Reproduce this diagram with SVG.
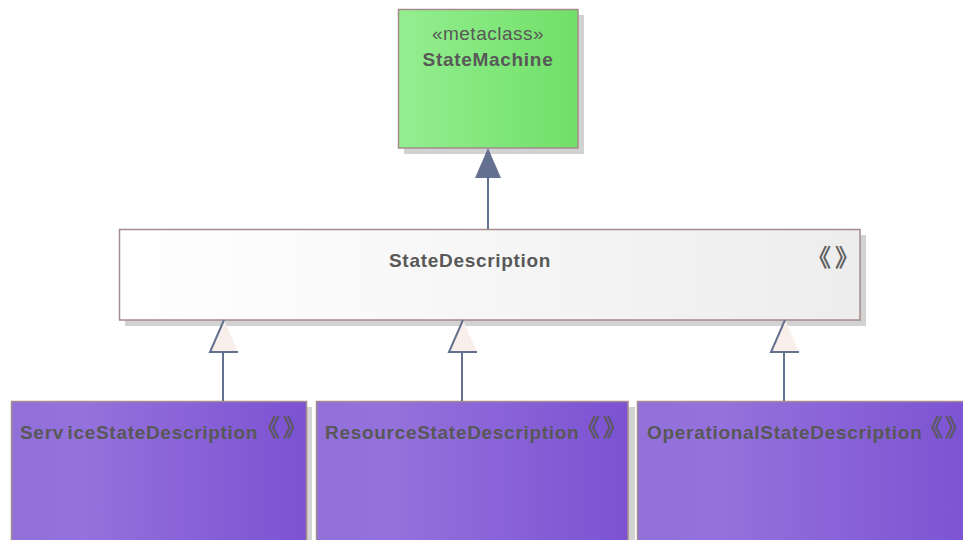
<svg xmlns="http://www.w3.org/2000/svg" width="963" height="540" viewBox="0 0 963 540">
  <style>
    .shadow { fill: #d2d2d2; }
    .box { stroke: #a48c8c; stroke-width: 1.5; }
    .label { font-family: "Liberation Sans", Arial, sans-serif; font-size: 19px; fill: #585858; }
    .bold { font-weight: bold; letter-spacing: 0.7px; }
    .stereo { font-family: "Noto Sans CJK SC", "Noto Sans CJK JP", sans-serif; font-size: 24px; fill: #585858; stroke: #585858; stroke-width: 0.5; }
    .conn { stroke: #647090; stroke-width: 2; fill: none; }
    .hollow { fill: #f8efea; }
  </style>
  <defs>
    <linearGradient id="gGreen" x1="0" y1="0" x2="1" y2="0">
      <stop offset="0" stop-color="#94ee90"/>
      <stop offset="1" stop-color="#70e068"/>
    </linearGradient>
    <linearGradient id="gWhite" x1="0" y1="0" x2="1" y2="0">
      <stop offset="0" stop-color="#ffffff"/>
      <stop offset="1" stop-color="#ededed"/>
    </linearGradient>
    <linearGradient id="gPurple" x1="0" y1="0" x2="1" y2="0">
      <stop offset="0" stop-color="#9270da"/>
      <stop offset="0.25" stop-color="#9471dc"/>
      <stop offset="1" stop-color="#7c52d2"/>
    </linearGradient>
  </defs>

  <!-- metaclass StateMachine -->
  <g id="StateMachine">
    <rect class="shadow" x="404" y="15" width="180" height="139"/>
    <rect class="box" x="398.5" y="9.5" width="179.5" height="138.5" fill="url(#gGreen)"/>
    <text class="label" x="488" y="40" text-anchor="middle" letter-spacing="0.5">«metaclass»</text>
    <text class="label bold" x="488" y="66" text-anchor="middle">StateMachine</text>
  </g>

  <!-- StateDescription -->
  <g id="StateDescription">
    <rect class="shadow" x="125" y="235" width="741" height="91"/>
    <rect class="box" x="119.5" y="229.5" width="740.5" height="90.5" fill="url(#gWhite)"/>
    <text class="label bold" x="389" y="267">StateDescription</text>
    <text class="stereo" x="831" y="266" text-anchor="end">《</text>
    <text class="stereo" x="835" y="266">》</text>
  </g>

  <!-- ServiceStateDescription -->
  <g id="ServiceStateDescription">
    <rect class="shadow" x="17" y="407" width="295" height="140"/>
    <rect class="box" x="11.5" y="401.5" width="295" height="145" fill="url(#gPurple)"/>
    <text class="label bold" x="20" y="439" word-spacing="-2.5">Serv iceStateDescription</text>
    <text class="stereo" x="280" y="436" text-anchor="end">《</text>
    <text class="stereo" x="283" y="436">》</text>
  </g>

  <!-- ResourceStateDescription -->
  <g id="ResourceStateDescription">
    <rect class="shadow" x="322" y="407" width="313" height="140"/>
    <rect class="box" x="316.5" y="401.5" width="311.5" height="145" fill="url(#gPurple)"/>
    <text class="label bold" x="325" y="439">ResourceStateDescription</text>
    <text class="stereo" x="600" y="436" text-anchor="end">《</text>
    <text class="stereo" x="603" y="436">》</text>
  </g>

  <!-- OperationalStateDescription -->
  <g id="OperationalStateDescription">
    <rect class="box" x="637.5" y="401.5" width="340" height="145" fill="url(#gPurple)"/>
    <text class="label bold" x="647" y="439" letter-spacing="0.6">OperationalStateDescription</text>
    <text class="stereo" x="943" y="436" text-anchor="end">《</text>
    <text class="stereo" x="945" y="436">》</text>
  </g>

  <!-- connectors: generalizations drawn on top of node shadows -->
  <g id="connectors">
    <line class="conn" x1="488" y1="176" x2="488" y2="229"/>
    <polygon points="488,148 475,178 501,178" fill="#657090"/>

    <line class="conn" x1="223" y1="352" x2="223" y2="401"/>
    <polygon class="hollow" points="224,320 210,352 238,352"/>
    <polyline class="conn" points="224,320 210,352 238,352"/>

    <line class="conn" x1="462" y1="352" x2="462" y2="401"/>
    <polygon class="hollow" points="463,320 449,352 477,352"/>
    <polyline class="conn" points="463,320 449,352 477,352"/>

    <line class="conn" x1="784" y1="352" x2="784" y2="401"/>
    <polygon class="hollow" points="785,320 771,352 799,352"/>
    <polyline class="conn" points="785,320 771,352 799,352"/>
  </g>
</svg>
